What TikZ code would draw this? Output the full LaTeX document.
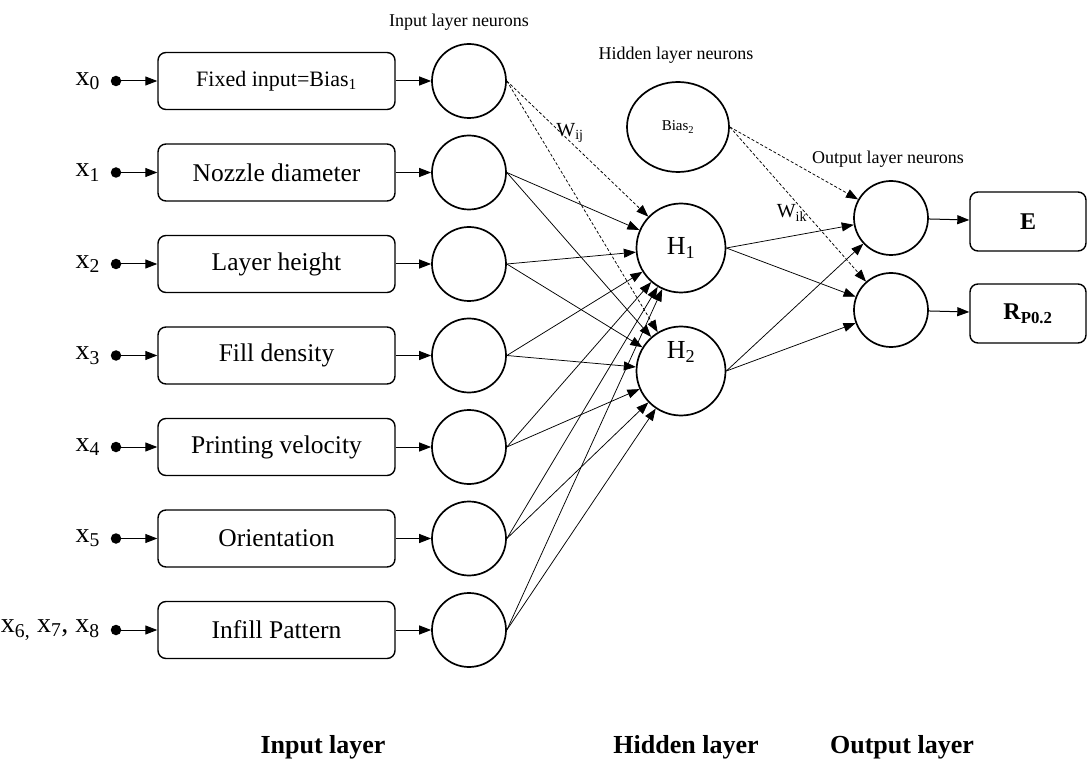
\documentclass[tikz,border=0pt]{standalone}
\usepackage{fontspec}
\setmainfont{Liberation Serif}
\usetikzlibrary{arrows.meta,shapes.geometric}
\begin{document}
\begin{tikzpicture}[x=1pt,y=-1pt,
  inbox/.style={draw, rounded corners=8pt, line width=1.4pt, minimum width=237pt,
    minimum height=57pt, inner sep=0pt, font=\fontsize{25.5}{30}\selectfont},
  neuron/.style={draw, circle, line width=1.7pt, minimum size=74pt, inner sep=0pt},
  hid/.style={draw, circle, line width=1.7pt, minimum size=89pt, inner sep=0pt,
    font=\fontsize{26}{30}\selectfont},
  outbox/.style={draw, rounded corners=8pt, line width=1.4pt, minimum width=116pt,
    minimum height=59pt, inner sep=0pt, font=\fontsize{24}{28}\selectfont\bfseries},
  indot/.style={circle, fill, inner sep=0pt, minimum size=10.5pt},
  xlab/.style={anchor=east, inner sep=0pt, font=\fontsize{28}{32}\selectfont},
  feed/.style={-{Triangle[length=12pt,width=9pt]}, line width=1pt},
  wire/.style={-{Triangle[length=12pt,width=9pt]}, line width=0.75pt},
  dwire/.style={wire, dash pattern=on 3pt off 2pt},
  toplabel/.style={font=\fontsize{18}{22}\selectfont},
  wlabel/.style={font=\fontsize{20}{24}\selectfont},
  layerlabel/.style={font=\fontsize{26}{30}\selectfont\bfseries, anchor=base},
]
\useasboundingbox (0,0) rectangle (1088,762);

% input rows: label, source dot, feature box, input neuron
\foreach \i/\xl/\name [evaluate=\i as \yy using 81+91.5*\i] in {
  0/{x\textsubscript{0}}/{{\fontsize{22}{26}\selectfont Fixed input=Bias\textsubscript{1}}},
  1/{x\textsubscript{1}}/{Nozzle diameter},
  2/{x\textsubscript{2}}/{Layer height},
  3/{x\textsubscript{3}}/{Fill density},
  4/{x\textsubscript{4}}/{Printing velocity},
  5/{x\textsubscript{5}}/{Orientation},
  6/{x\textsubscript{6,} x\textsubscript{7}, x\textsubscript{8}}/{Infill Pattern}}
{
  \node[xlab] (x\i) at (100,\yy) {\xl};
  \node[indot] (d\i) at (116,\yy) {};
  \node[inbox] (b\i) at (276.5,\yy) {\name};
  \node[neuron] (n\i) at (469,\yy) {};
  \draw[feed] (d\i) -- (b\i);
  \draw[feed] (b\i) -- (n\i);
}

% hidden layer
\node[draw, ellipse, line width=1.7pt, minimum width=102pt, minimum height=90pt,
  inner sep=0pt, font=\fontsize{15}{17}\selectfont] (B2) at (678,127) {Bias\textsubscript{2}};
\node[hid] (H1) at (681,248) {H\textsubscript{1}};
\node[hid] (H2) at (681,371) {};
\node[font=\fontsize{26}{30}\selectfont] (H2t) at (681,352) {H\textsubscript{2}};

% output layer
\node[neuron] (O1) at (891,218) {};
\node[neuron] (O2) at (891,310) {};
\node[outbox] (E) at (1028,221.5) {E};
\node[outbox] (R) at (1028,313.5) {R\textsubscript{P0.2}};
\draw[feed] (O1) -- (E);
\draw[feed] (O2) -- (R);

% input -> hidden weights
\draw[dwire] (n0.east) -- (H1);
\draw[dwire] (n0.east) -- (H2);
\foreach \i in {1,...,6}{
  \draw[wire] (n\i.east) -- (H1);
  \draw[wire] (n\i.east) -- (H2);
}

% hidden -> output weights
\draw[dwire] (B2.east) -- (O1);
\draw[dwire] (B2.east) -- (O2);
\draw[wire] (H1.east) -- (O1);
\draw[wire] (H1.east) -- (O2);
\draw[wire] (H2.east) -- (O1);
\draw[wire] (H2.east) -- (O2);

% captions
\node[toplabel] (tin) at (459,22) {Input layer neurons};
\node[toplabel] (thid) at (676,55) {Hidden layer neurons};
\node[toplabel] (tout) at (888,159) {Output layer neurons};
\node[wlabel] (wij) at (570,133) {W\textsubscript{ij}};
\node[wlabel] (wik) at (792,213) {W\textsubscript{ik}};
\node[layerlabel] (lin) at (323,753) {Input layer};
\node[layerlabel] (lhid) at (686,753) {Hidden layer};
\node[layerlabel] (lout) at (902,753) {Output layer};
\end{tikzpicture}
\end{document}
